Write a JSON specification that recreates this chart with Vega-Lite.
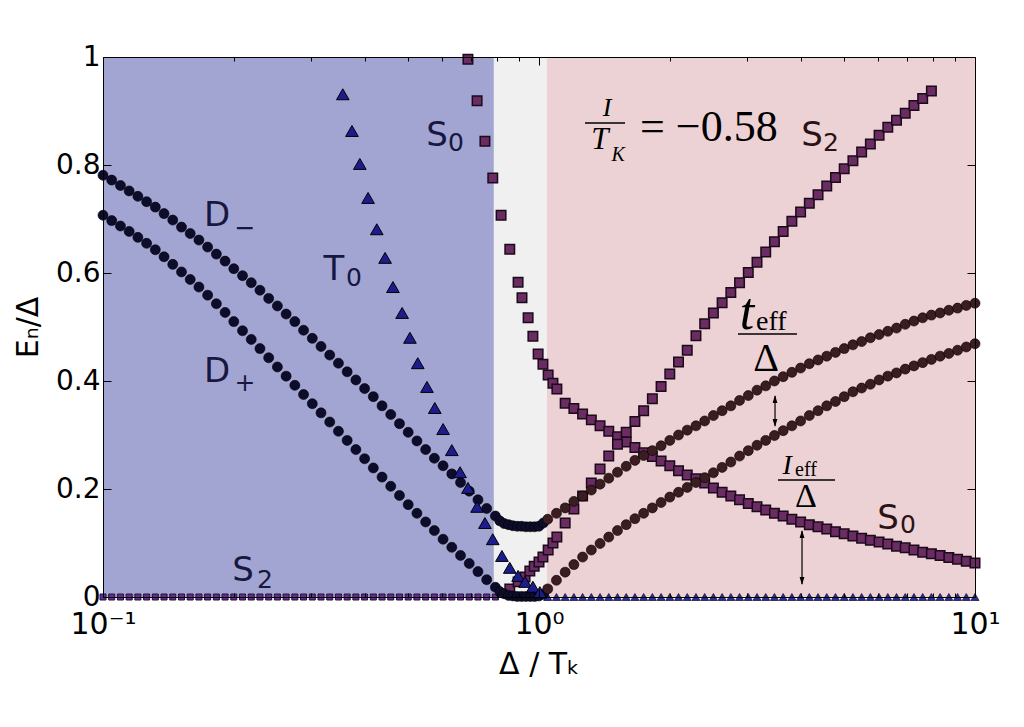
{
  "$schema": "https://vega.github.io/schema/vega-lite/v6.json",
  "width": 872,
  "height": 540,
  "autosize": {"type": "none"},
  "padding": {"left": 103, "top": 57, "right": 49, "bottom": 130},
  "background": "white",
  "config": {"view": {"stroke": null}, "font": "DejaVu Sans"},
  "datasets": {
    "zones": [
      {"x": 0.1, "x2": 0.788, "zone": "doublet"},
      {"x": 0.788, "x2": 1.043, "zone": "mixed"},
      {"x": 1.043, "x2": 10, "zone": "singlet"}
    ],
    "dm": [
      {"x": 0.1, "y": 0.781}, {"x": 0.10471, "y": 0.772}, {"x": 0.10965, "y": 0.762}, {"x": 0.11482, "y": 0.752},
      {"x": 0.12023, "y": 0.742}, {"x": 0.12589, "y": 0.732}, {"x": 0.13183, "y": 0.722}, {"x": 0.13804, "y": 0.71},
      {"x": 0.14454, "y": 0.698}, {"x": 0.15136, "y": 0.685}, {"x": 0.15849, "y": 0.673}, {"x": 0.16596, "y": 0.661},
      {"x": 0.17378, "y": 0.648}, {"x": 0.18197, "y": 0.635}, {"x": 0.19055, "y": 0.622}, {"x": 0.19953, "y": 0.608},
      {"x": 0.20893, "y": 0.595}, {"x": 0.21878, "y": 0.582}, {"x": 0.22909, "y": 0.568}, {"x": 0.23988, "y": 0.553},
      {"x": 0.25119, "y": 0.539}, {"x": 0.26303, "y": 0.524}, {"x": 0.27542, "y": 0.51}, {"x": 0.2884, "y": 0.494},
      {"x": 0.302, "y": 0.479}, {"x": 0.31623, "y": 0.464}, {"x": 0.33113, "y": 0.448}, {"x": 0.34674, "y": 0.433},
      {"x": 0.36308, "y": 0.417}, {"x": 0.38019, "y": 0.402}, {"x": 0.39811, "y": 0.386}, {"x": 0.41687, "y": 0.371},
      {"x": 0.43652, "y": 0.354}, {"x": 0.45709, "y": 0.338}, {"x": 0.47863, "y": 0.321}, {"x": 0.50119, "y": 0.305},
      {"x": 0.52481, "y": 0.289}, {"x": 0.54954, "y": 0.273}, {"x": 0.57544, "y": 0.257}, {"x": 0.60256, "y": 0.243},
      {"x": 0.63096, "y": 0.228}, {"x": 0.66069, "y": 0.212}, {"x": 0.69183, "y": 0.196}, {"x": 0.72444, "y": 0.18},
      {"x": 0.75858, "y": 0.164}, {"x": 0.79433, "y": 0.15},
      {"x": 0.81283, "y": 0.141}, {"x": 0.83176, "y": 0.136}, {"x": 0.8511, "y": 0.134}, {"x": 0.87096, "y": 0.132},
      {"x": 0.8913, "y": 0.131}, {"x": 0.91201, "y": 0.131}, {"x": 0.9333, "y": 0.13}, {"x": 0.95499, "y": 0.13},
      {"x": 0.9772, "y": 0.13}, {"x": 1, "y": 0.131}, {"x": 1.0233, "y": 0.137},
      {"x": 1.0471, "y": 0.144}, {"x": 1.0965, "y": 0.155}, {"x": 1.1482, "y": 0.165}, {"x": 1.2023, "y": 0.177},
      {"x": 1.2589, "y": 0.187}, {"x": 1.3183, "y": 0.198}, {"x": 1.3804, "y": 0.209}, {"x": 1.4454, "y": 0.22},
      {"x": 1.5136, "y": 0.231}, {"x": 1.5849, "y": 0.242}, {"x": 1.6596, "y": 0.253}, {"x": 1.7378, "y": 0.262},
      {"x": 1.8197, "y": 0.271}, {"x": 1.9055, "y": 0.28}, {"x": 1.9953, "y": 0.29}, {"x": 2.0893, "y": 0.3},
      {"x": 2.1878, "y": 0.309}, {"x": 2.2909, "y": 0.317}, {"x": 2.3988, "y": 0.326}, {"x": 2.5119, "y": 0.336},
      {"x": 2.6303, "y": 0.345}, {"x": 2.7542, "y": 0.354}, {"x": 2.884, "y": 0.364}, {"x": 3.02, "y": 0.373},
      {"x": 3.1623, "y": 0.383}, {"x": 3.3113, "y": 0.391}, {"x": 3.4674, "y": 0.4}, {"x": 3.6308, "y": 0.408},
      {"x": 3.8019, "y": 0.416}, {"x": 3.9811, "y": 0.424}, {"x": 4.1687, "y": 0.432}, {"x": 4.3652, "y": 0.439},
      {"x": 4.5709, "y": 0.446}, {"x": 4.7863, "y": 0.453}, {"x": 5.0119, "y": 0.46}, {"x": 5.2481, "y": 0.467},
      {"x": 5.4954, "y": 0.473}, {"x": 5.7544, "y": 0.48}, {"x": 6.0256, "y": 0.486}, {"x": 6.3096, "y": 0.492},
      {"x": 6.6069, "y": 0.498}, {"x": 6.9183, "y": 0.505}, {"x": 7.2444, "y": 0.511}, {"x": 7.5858, "y": 0.517},
      {"x": 7.9433, "y": 0.522}, {"x": 8.3176, "y": 0.526}, {"x": 8.7096, "y": 0.531}, {"x": 9.1201, "y": 0.535},
      {"x": 9.5499, "y": 0.54}, {"x": 10, "y": 0.544}
    ],
    "dp": [
      {"x": 0.1, "y": 0.707}, {"x": 0.10471, "y": 0.697}, {"x": 0.10965, "y": 0.687}, {"x": 0.11482, "y": 0.677},
      {"x": 0.12023, "y": 0.666}, {"x": 0.12589, "y": 0.655}, {"x": 0.13183, "y": 0.643}, {"x": 0.13804, "y": 0.63},
      {"x": 0.14454, "y": 0.616}, {"x": 0.15136, "y": 0.602}, {"x": 0.15849, "y": 0.588}, {"x": 0.16596, "y": 0.574},
      {"x": 0.17378, "y": 0.559}, {"x": 0.18197, "y": 0.543}, {"x": 0.19055, "y": 0.527}, {"x": 0.19953, "y": 0.51},
      {"x": 0.20893, "y": 0.493}, {"x": 0.21878, "y": 0.477}, {"x": 0.22909, "y": 0.46}, {"x": 0.23988, "y": 0.443},
      {"x": 0.25119, "y": 0.426}, {"x": 0.26303, "y": 0.409}, {"x": 0.27542, "y": 0.392}, {"x": 0.2884, "y": 0.375},
      {"x": 0.302, "y": 0.358}, {"x": 0.31623, "y": 0.341}, {"x": 0.33113, "y": 0.324}, {"x": 0.34674, "y": 0.307},
      {"x": 0.36308, "y": 0.29}, {"x": 0.38019, "y": 0.273}, {"x": 0.39811, "y": 0.256}, {"x": 0.41687, "y": 0.239},
      {"x": 0.43652, "y": 0.222}, {"x": 0.45709, "y": 0.205}, {"x": 0.47863, "y": 0.188}, {"x": 0.50119, "y": 0.171},
      {"x": 0.52481, "y": 0.155}, {"x": 0.54954, "y": 0.139}, {"x": 0.57544, "y": 0.123}, {"x": 0.60256, "y": 0.107},
      {"x": 0.63096, "y": 0.092}, {"x": 0.66069, "y": 0.077}, {"x": 0.69183, "y": 0.062}, {"x": 0.72444, "y": 0.047},
      {"x": 0.75858, "y": 0.032}, {"x": 0.79433, "y": 0.018},
      {"x": 0.81283, "y": 0.01}, {"x": 0.83176, "y": 0.006}, {"x": 0.8511, "y": 0.003}, {"x": 0.87096, "y": 0.002},
      {"x": 0.8913, "y": 0.001}, {"x": 0.91201, "y": 0.001}, {"x": 0.9333, "y": 0.001}, {"x": 0.95499, "y": 0.001},
      {"x": 0.9772, "y": 0.001}, {"x": 1, "y": 0.002}, {"x": 1.0233, "y": 0.005},
      {"x": 1.0471, "y": 0.015}, {"x": 1.0965, "y": 0.031}, {"x": 1.1482, "y": 0.046}, {"x": 1.2023, "y": 0.06},
      {"x": 1.2589, "y": 0.074}, {"x": 1.3183, "y": 0.087}, {"x": 1.3804, "y": 0.099}, {"x": 1.4454, "y": 0.111},
      {"x": 1.5136, "y": 0.123}, {"x": 1.5849, "y": 0.134}, {"x": 1.6596, "y": 0.145}, {"x": 1.7378, "y": 0.155},
      {"x": 1.8197, "y": 0.165}, {"x": 1.9055, "y": 0.175}, {"x": 1.9953, "y": 0.185}, {"x": 2.0893, "y": 0.194},
      {"x": 2.1878, "y": 0.203}, {"x": 2.2909, "y": 0.212}, {"x": 2.3988, "y": 0.221}, {"x": 2.5119, "y": 0.23},
      {"x": 2.6303, "y": 0.24}, {"x": 2.7542, "y": 0.25}, {"x": 2.884, "y": 0.261}, {"x": 3.02, "y": 0.271},
      {"x": 3.1623, "y": 0.281}, {"x": 3.3113, "y": 0.29}, {"x": 3.4674, "y": 0.299}, {"x": 3.6308, "y": 0.308},
      {"x": 3.8019, "y": 0.317}, {"x": 3.9811, "y": 0.326}, {"x": 4.1687, "y": 0.336}, {"x": 4.3652, "y": 0.345},
      {"x": 4.5709, "y": 0.354}, {"x": 4.7863, "y": 0.362}, {"x": 5.0119, "y": 0.371}, {"x": 5.2481, "y": 0.38},
      {"x": 5.4954, "y": 0.387}, {"x": 5.7544, "y": 0.394}, {"x": 6.0256, "y": 0.402}, {"x": 6.3096, "y": 0.409},
      {"x": 6.6069, "y": 0.415}, {"x": 6.9183, "y": 0.422}, {"x": 7.2444, "y": 0.428}, {"x": 7.5858, "y": 0.434},
      {"x": 7.9433, "y": 0.44}, {"x": 8.3176, "y": 0.446}, {"x": 8.7096, "y": 0.451}, {"x": 9.1201, "y": 0.457},
      {"x": 9.5499, "y": 0.463}, {"x": 10, "y": 0.469}
    ],
    "t0": [
      {"x": 0.3548, "y": 0.931}, {"x": 0.3724, "y": 0.863}, {"x": 0.3882, "y": 0.802}, {"x": 0.4055, "y": 0.739},
      {"x": 0.4246, "y": 0.681}, {"x": 0.4436, "y": 0.628}, {"x": 0.4624, "y": 0.574}, {"x": 0.4853, "y": 0.526},
      {"x": 0.5058, "y": 0.48}, {"x": 0.5272, "y": 0.433}, {"x": 0.5534, "y": 0.389}, {"x": 0.5768, "y": 0.35},
      {"x": 0.6026, "y": 0.311}, {"x": 0.631, "y": 0.272}, {"x": 0.6592, "y": 0.231}, {"x": 0.6871, "y": 0.202},
      {"x": 0.7211, "y": 0.167}, {"x": 0.7516, "y": 0.137}, {"x": 0.7834, "y": 0.107}, {"x": 0.8222, "y": 0.076},
      {"x": 0.857, "y": 0.054}, {"x": 0.8954, "y": 0.039}, {"x": 0.929, "y": 0.028}, {"x": 0.9683, "y": 0.019},
      {"x": 1.0046, "y": 0.009}
    ],
    "s0": [
      {"x": 0.6871, "y": 0.996}, {"x": 0.7211, "y": 0.919}, {"x": 0.7516, "y": 0.844}, {"x": 0.7834, "y": 0.776},
      {"x": 0.8185, "y": 0.707}, {"x": 0.857, "y": 0.644}, {"x": 0.8954, "y": 0.583}, {"x": 0.9141, "y": 0.554},
      {"x": 0.9441, "y": 0.517}, {"x": 0.9683, "y": 0.483}, {"x": 0.9954, "y": 0.45}, {"x": 1.021, "y": 0.431},
      {"x": 1.0495, "y": 0.411}, {"x": 1.0765, "y": 0.396}, {"x": 1.099, "y": 0.385},
      {"x": 1.1482, "y": 0.359}, {"x": 1.2023, "y": 0.349}, {"x": 1.2589, "y": 0.339}, {"x": 1.3183, "y": 0.328},
      {"x": 1.3804, "y": 0.317}, {"x": 1.4454, "y": 0.307}, {"x": 1.5136, "y": 0.297}, {"x": 1.5849, "y": 0.287},
      {"x": 1.6596, "y": 0.277}, {"x": 1.7378, "y": 0.267}, {"x": 1.8197, "y": 0.26}, {"x": 1.9055, "y": 0.252},
      {"x": 1.9953, "y": 0.243}, {"x": 2.0893, "y": 0.234}, {"x": 2.1878, "y": 0.226}, {"x": 2.2909, "y": 0.219},
      {"x": 2.3988, "y": 0.211}, {"x": 2.5119, "y": 0.202}, {"x": 2.6303, "y": 0.194}, {"x": 2.7542, "y": 0.187},
      {"x": 2.884, "y": 0.18}, {"x": 3.02, "y": 0.173}, {"x": 3.1623, "y": 0.167}, {"x": 3.3113, "y": 0.161},
      {"x": 3.4674, "y": 0.155}, {"x": 3.6308, "y": 0.15}, {"x": 3.8019, "y": 0.144}, {"x": 3.9811, "y": 0.139},
      {"x": 4.1687, "y": 0.134}, {"x": 4.3652, "y": 0.13}, {"x": 4.5709, "y": 0.126}, {"x": 4.7863, "y": 0.121},
      {"x": 5.0119, "y": 0.117}, {"x": 5.2481, "y": 0.113}, {"x": 5.4954, "y": 0.109}, {"x": 5.7544, "y": 0.105},
      {"x": 6.0256, "y": 0.102}, {"x": 6.3096, "y": 0.098}, {"x": 6.6069, "y": 0.094}, {"x": 6.9183, "y": 0.091},
      {"x": 7.2444, "y": 0.087}, {"x": 7.5858, "y": 0.083}, {"x": 7.9433, "y": 0.08}, {"x": 8.3176, "y": 0.077},
      {"x": 8.7096, "y": 0.073}, {"x": 9.1201, "y": 0.07}, {"x": 9.5499, "y": 0.066}, {"x": 10, "y": 0.063}
    ],
    "s2": [
      {"x": 0.857, "y": 0.015}, {"x": 0.8954, "y": 0.028}, {"x": 0.929, "y": 0.037}, {"x": 0.9528, "y": 0.048},
      {"x": 0.975, "y": 0.057}, {"x": 1, "y": 0.065}, {"x": 1.021, "y": 0.074}, {"x": 1.0495, "y": 0.087},
      {"x": 1.0765, "y": 0.1}, {"x": 1.099, "y": 0.111},
      {"x": 1.1482, "y": 0.137}, {"x": 1.2023, "y": 0.163}, {"x": 1.2589, "y": 0.187}, {"x": 1.3183, "y": 0.211},
      {"x": 1.3804, "y": 0.237}, {"x": 1.4454, "y": 0.261}, {"x": 1.5136, "y": 0.283}, {"x": 1.5849, "y": 0.305},
      {"x": 1.6596, "y": 0.325}, {"x": 1.7378, "y": 0.345}, {"x": 1.8197, "y": 0.367}, {"x": 1.9055, "y": 0.39},
      {"x": 1.9953, "y": 0.413}, {"x": 2.0893, "y": 0.435}, {"x": 2.1878, "y": 0.457}, {"x": 2.2909, "y": 0.484},
      {"x": 2.3988, "y": 0.506}, {"x": 2.5119, "y": 0.526}, {"x": 2.6303, "y": 0.545}, {"x": 2.7542, "y": 0.564},
      {"x": 2.884, "y": 0.582}, {"x": 3.02, "y": 0.601}, {"x": 3.1623, "y": 0.62}, {"x": 3.3113, "y": 0.639},
      {"x": 3.4674, "y": 0.658}, {"x": 3.6308, "y": 0.677}, {"x": 3.8019, "y": 0.696}, {"x": 3.9811, "y": 0.713},
      {"x": 4.1687, "y": 0.729}, {"x": 4.3652, "y": 0.745}, {"x": 4.5709, "y": 0.761}, {"x": 4.7863, "y": 0.777},
      {"x": 5.0119, "y": 0.793}, {"x": 5.2481, "y": 0.808}, {"x": 5.4954, "y": 0.824}, {"x": 5.7544, "y": 0.839},
      {"x": 6.0256, "y": 0.855}, {"x": 6.3096, "y": 0.87}, {"x": 6.6069, "y": 0.883}, {"x": 6.9183, "y": 0.896},
      {"x": 7.2444, "y": 0.91}, {"x": 7.5858, "y": 0.923}, {"x": 7.9433, "y": 0.937}
    ],
    "s2low": [
      {"x": 0.1, "y": 0}, {"x": 0.10471, "y": 0}, {"x": 0.10965, "y": 0}, {"x": 0.11482, "y": 0},
      {"x": 0.12023, "y": 0}, {"x": 0.12589, "y": 0}, {"x": 0.13183, "y": 0}, {"x": 0.13804, "y": 0},
      {"x": 0.14454, "y": 0}, {"x": 0.15136, "y": 0}, {"x": 0.15849, "y": 0}, {"x": 0.16596, "y": 0},
      {"x": 0.17378, "y": 0}, {"x": 0.18197, "y": 0}, {"x": 0.19055, "y": 0}, {"x": 0.19953, "y": 0},
      {"x": 0.20893, "y": 0}, {"x": 0.21878, "y": 0}, {"x": 0.22909, "y": 0}, {"x": 0.23988, "y": 0},
      {"x": 0.25119, "y": 0}, {"x": 0.26303, "y": 0}, {"x": 0.27542, "y": 0}, {"x": 0.2884, "y": 0},
      {"x": 0.302, "y": 0}, {"x": 0.31623, "y": 0}, {"x": 0.33113, "y": 0}, {"x": 0.34674, "y": 0},
      {"x": 0.36308, "y": 0}, {"x": 0.38019, "y": 0}, {"x": 0.39811, "y": 0}, {"x": 0.41687, "y": 0},
      {"x": 0.43652, "y": 0}, {"x": 0.45709, "y": 0}, {"x": 0.47863, "y": 0}, {"x": 0.50119, "y": 0},
      {"x": 0.52481, "y": 0}, {"x": 0.54954, "y": 0}, {"x": 0.57544, "y": 0}, {"x": 0.60256, "y": 0},
      {"x": 0.63096, "y": 0}, {"x": 0.66069, "y": 0}, {"x": 0.69183, "y": 0}, {"x": 0.72444, "y": 0},
      {"x": 0.75858, "y": 0}, {"x": 0.79433, "y": 0}
    ],
    "ground": [
      {"x": 1.0471, "y": 0}, {"x": 1.0965, "y": 0}, {"x": 1.1482, "y": 0}, {"x": 1.2023, "y": 0},
      {"x": 1.2589, "y": 0}, {"x": 1.3183, "y": 0}, {"x": 1.3804, "y": 0}, {"x": 1.4454, "y": 0},
      {"x": 1.5136, "y": 0}, {"x": 1.5849, "y": 0}, {"x": 1.6596, "y": 0}, {"x": 1.7378, "y": 0},
      {"x": 1.8197, "y": 0}, {"x": 1.9055, "y": 0}, {"x": 1.9953, "y": 0}, {"x": 2.0893, "y": 0},
      {"x": 2.1878, "y": 0}, {"x": 2.2909, "y": 0}, {"x": 2.3988, "y": 0}, {"x": 2.5119, "y": 0},
      {"x": 2.6303, "y": 0}, {"x": 2.7542, "y": 0}, {"x": 2.884, "y": 0}, {"x": 3.02, "y": 0},
      {"x": 3.1623, "y": 0}, {"x": 3.3113, "y": 0}, {"x": 3.4674, "y": 0}, {"x": 3.6308, "y": 0},
      {"x": 3.8019, "y": 0}, {"x": 3.9811, "y": 0}, {"x": 4.1687, "y": 0}, {"x": 4.3652, "y": 0},
      {"x": 4.5709, "y": 0}, {"x": 4.7863, "y": 0}, {"x": 5.0119, "y": 0}, {"x": 5.2481, "y": 0},
      {"x": 5.4954, "y": 0}, {"x": 5.7544, "y": 0}, {"x": 6.0256, "y": 0}, {"x": 6.3096, "y": 0},
      {"x": 6.6069, "y": 0}, {"x": 6.9183, "y": 0}, {"x": 7.2444, "y": 0}, {"x": 7.5858, "y": 0},
      {"x": 7.9433, "y": 0}, {"x": 8.3176, "y": 0}, {"x": 8.7096, "y": 0}, {"x": 9.1201, "y": 0},
      {"x": 9.5499, "y": 0}, {"x": 10, "y": 0}
    ]
  },
  "layer": [
    {
      "data": {"name": "zones"},
      "mark": {"type": "rect"},
      "encoding": {
        "x": {"field": "x", "type": "quantitative", "scale": {"type": "log", "domain": [0.1, 10]}, "axis": null},
        "x2": {"field": "x2"},
        "fill": {
          "field": "zone",
          "type": "nominal",
          "scale": {"domain": ["doublet", "mixed", "singlet"], "range": ["#a2a5d2", "#f0f0f0", "#ecd2d4"]},
          "legend": null
        }
      }
    },
    {
      "encoding": {
        "x": {"field": "x", "type": "quantitative", "scale": {"type": "log", "domain": [0.1, 10]}, "axis": null},
        "y": {"field": "y", "type": "quantitative", "scale": {"domain": [0, 1], "nice": false, "zero": false}, "axis": null}
      },
      "layer": [
        {
          "data": {"name": "s2low"},
          "mark": {"type": "point", "shape": "square", "filled": true, "size": 36, "fill": "#62308a", "stroke": "#24103a", "strokeWidth": 1, "opacity": 1}
        },
        {
          "data": {"name": "ground"},
          "mark": {"type": "point", "shape": "triangle-up", "filled": true, "size": 64, "fill": "#2e2e98", "stroke": "#14143a", "strokeWidth": 0.8, "opacity": 1}
        },
        {
          "data": {"name": "s0"},
          "mark": {"type": "point", "shape": "square", "filled": true, "size": 90, "fill": "#6b2b63", "stroke": "#1b0a1a", "strokeWidth": 1.5, "opacity": 1}
        },
        {
          "data": {"name": "s2"},
          "mark": {"type": "point", "shape": "square", "filled": true, "size": 90, "fill": "#6b2b63", "stroke": "#1b0a1a", "strokeWidth": 1.5, "opacity": 1}
        },
        {
          "data": {"name": "dm"},
          "mark": {"type": "point", "shape": "circle", "filled": true, "size": 100, "stroke": "#000000", "strokeWidth": 0.6, "opacity": 1},
          "encoding": {
            "x": {
              "field": "x",
              "type": "quantitative",
              "scale": {"type": "log", "domain": [0.1, 10]},
              "axis": {
                "orient": "bottom",
                "values": [0.1, 0.2, 0.3, 0.4, 0.5, 0.6, 0.7, 0.8, 0.9, 1, 2, 3, 4, 5, 6, 7, 8, 9, 10],
                "labelExpr": "datum.value == 0.1 ? '10⁻¹' : datum.value == 1 ? '10⁰' : datum.value == 10 ? '10¹' : ''",
                "tickSize": {"condition": {"test": "datum.value == 0.1 || datum.value == 1 || datum.value == 10", "value": -8}, "value": -4},
                "tickColor": "#000000",
                "domainColor": "#000000",
                "labelPadding": 20,
                "labelFontSize": 30,
                "labelColor": "#000000",
                "labelFlush": false,
                "labelOverlap": false,
                "labelBound": false,
                "grid": false,
                "title": "Δ / Tₖ",
                "titleFontSize": 30,
                "titleFontWeight": "normal",
                "titleColor": "#000000",
                "titlePadding": 6,
                "zindex": 1
              }
            },
            "y": {
              "field": "y",
              "type": "quantitative",
              "scale": {"domain": [0, 1], "nice": false, "zero": false},
              "axis": {
                "orient": "left",
                "values": [0, 0.2, 0.4, 0.6, 0.8, 1],
                "format": "~g",
                "tickSize": -8,
                "tickColor": "#000000",
                "domainColor": "#000000",
                "labelPadding": 11,
                "labelFontSize": 28,
                "labelColor": "#000000",
                "labelFlush": false,
                "labelOverlap": false,
                "grid": false,
                "title": "Eₙ/Δ",
                "titleFontSize": 30,
                "titleFontWeight": "normal",
                "titleColor": "#000000",
                "titlePadding": 12,
                "zindex": 1
              }
            },
            "fill": {"condition": {"test": "datum.x > 1.03", "value": "#3a1c21"}, "value": "#0d0d2b"}
          }
        },
        {
          "data": {"name": "dp"},
          "mark": {"type": "point", "shape": "circle", "filled": true, "size": 100, "stroke": "#000000", "strokeWidth": 0.6, "opacity": 1},
          "encoding": {
            "x": {
              "field": "x",
              "type": "quantitative",
              "scale": {"type": "log", "domain": [0.1, 10]},
              "axis": {
                "orient": "top",
                "values": [0.1, 0.2, 0.3, 0.4, 0.5, 0.6, 0.7, 0.8, 0.9, 1, 2, 3, 4, 5, 6, 7, 8, 9, 10],
                "labels": false,
                "tickSize": {"condition": {"test": "datum.value == 0.1 || datum.value == 1 || datum.value == 10", "value": -8}, "value": -4},
                "tickColor": "#000000",
                "domainColor": "#000000",
                "grid": false,
                "title": null,
                "zindex": 1
              }
            },
            "y": {
              "field": "y",
              "type": "quantitative",
              "scale": {"domain": [0, 1], "nice": false, "zero": false},
              "axis": {
                "orient": "right",
                "values": [0, 0.2, 0.4, 0.6, 0.8, 1],
                "labels": false,
                "tickSize": -8,
                "tickColor": "#000000",
                "domainColor": "#000000",
                "grid": false,
                "title": null,
                "zindex": 1
              }
            },
            "fill": {"condition": {"test": "datum.x > 1.03", "value": "#3a1c21"}, "value": "#0d0d2b"}
          }
        },
        {
          "data": {"name": "t0"},
          "mark": {"type": "point", "shape": "triangle-up", "filled": true, "size": 160, "fill": "#1c1c8c", "stroke": "#000000", "strokeWidth": 1, "opacity": 1}
        },
        {
          "data": {"values": [
            {"x": 0.1826, "y": 0.7056, "t": "D"},
            {"x": 0.1826, "y": 0.4167, "t": "D"},
            {"x": 0.3387, "y": 0.6056, "t": "T"},
            {"x": 0.5834, "y": 0.8537, "t": "S"},
            {"x": 0.2095, "y": 0.0481, "t": "S"}
          ]},
          "mark": {"type": "text", "fontSize": 34, "color": "#17173f", "align": "center", "baseline": "middle"},
          "encoding": {"text": {"field": "t"}}
        },
        {
          "data": {"values": [
            {"x": 0.2117, "y": 0.6833, "t": "−"},
            {"x": 0.2117, "y": 0.3963, "t": "+"},
            {"x": 0.3764, "y": 0.5907, "t": "0"},
            {"x": 0.6451, "y": 0.8407, "t": "0"},
            {"x": 0.2352, "y": 0.0315, "t": "2"}
          ]},
          "mark": {"type": "text", "fontSize": 25, "color": "#17173f", "align": "center", "baseline": "middle"},
          "encoding": {"text": {"field": "t"}}
        },
        {
          "data": {"values": [
            {"x": 4.227, "y": 0.8537, "t": "S"},
            {"x": 6.318, "y": 0.1444, "t": "S"}
          ]},
          "mark": {"type": "text", "fontSize": 34, "color": "#2a1216", "align": "center", "baseline": "middle"},
          "encoding": {"text": {"field": "t"}}
        },
        {
          "data": {"values": [
            {"x": 4.674, "y": 0.8407, "t": "2"},
            {"x": 7.021, "y": 0.1333, "t": "0"}
          ]},
          "mark": {"type": "text", "fontSize": 25, "color": "#2a1216", "align": "center", "baseline": "middle"},
          "encoding": {"text": {"field": "t"}}
        },
        {
          "data": {"values": [{"x": 1.432, "y": 0.906, "t": "I"}]},
          "mark": {"type": "text", "font": "Liberation Serif", "fontStyle": "italic", "fontSize": 26, "color": "#000000", "align": "center", "baseline": "middle"},
          "encoding": {"text": {"field": "t"}}
        },
        {
          "data": {"values": [{"x": 1.38, "y": 0.846, "t": "T"}]},
          "mark": {"type": "text", "font": "Liberation Serif", "fontStyle": "italic", "fontSize": 31, "color": "#000000", "align": "center", "baseline": "middle"},
          "encoding": {"text": {"field": "t"}}
        },
        {
          "data": {"values": [{"x": 1.52, "y": 0.8185, "t": "K"}]},
          "mark": {"type": "text", "font": "Liberation Serif", "fontStyle": "italic", "fontSize": 20, "color": "#000000", "align": "center", "baseline": "middle"},
          "encoding": {"text": {"field": "t"}}
        },
        {
          "data": {"values": [{"x": 1.705, "y": 0.8685, "t": "= −0.58"}]},
          "mark": {"type": "text", "font": "Liberation Serif", "fontSize": 44, "color": "#000000", "align": "left", "baseline": "middle"},
          "encoding": {"text": {"field": "t"}}
        },
        {
          "data": {"values": [{"x": 3.0, "y": 0.526, "t": "t"}]},
          "mark": {"type": "text", "font": "Liberation Serif", "fontStyle": "italic", "fontSize": 52, "color": "#000000", "align": "center", "baseline": "middle"},
          "encoding": {"text": {"field": "t"}}
        },
        {
          "data": {"values": [{"x": 3.146, "y": 0.509, "t": "eff"}]},
          "mark": {"type": "text", "font": "Liberation Serif", "fontSize": 28, "color": "#000000", "align": "left", "baseline": "middle"},
          "encoding": {"text": {"field": "t"}}
        },
        {
          "data": {"values": [{"x": 3.316, "y": 0.4407, "t": "Δ"}]},
          "mark": {"type": "text", "font": "Liberation Serif", "fontSize": 40, "color": "#000000", "align": "center", "baseline": "middle"},
          "encoding": {"text": {"field": "t"}}
        },
        {
          "data": {"values": [{"x": 3.706, "y": 0.2426, "t": "I"}]},
          "mark": {"type": "text", "font": "Liberation Serif", "fontStyle": "italic", "fontSize": 28, "color": "#000000", "align": "center", "baseline": "middle"},
          "encoding": {"text": {"field": "t"}}
        },
        {
          "data": {"values": [{"x": 3.866, "y": 0.2352, "t": "eff"}]},
          "mark": {"type": "text", "font": "Liberation Serif", "fontSize": 20, "color": "#000000", "align": "left", "baseline": "middle"},
          "encoding": {"text": {"field": "t"}}
        },
        {
          "data": {"values": [{"x": 4.097, "y": 0.1852, "t": "Δ"}]},
          "mark": {"type": "text", "font": "Liberation Serif", "fontSize": 34, "color": "#000000", "align": "center", "baseline": "middle"},
          "encoding": {"text": {"field": "t"}}
        },
        {
          "data": {"values": [
            {"x": 1.275, "x2": 1.575, "y": 0.8778},
            {"x": 2.86, "x2": 3.905, "y": 0.487},
            {"x": 3.533, "x2": 4.775, "y": 0.2167}
          ]},
          "mark": {"type": "rule", "color": "#000000", "strokeWidth": 1.6},
          "encoding": {"x2": {"field": "x2"}}
        },
        {
          "data": {"values": [
            {"x": 3.478, "y": 0.372, "y2": 0.317},
            {"x": 4.011, "y": 0.122, "y2": 0.024}
          ]},
          "mark": {"type": "rule", "color": "#000000", "strokeWidth": 1.2},
          "encoding": {"y2": {"field": "y2"}}
        },
        {
          "data": {"values": [{"x": 3.478, "y": 0.3666}, {"x": 4.011, "y": 0.1166}]},
          "mark": {"type": "point", "shape": "M0,-1L-0.6,1L0.6,1Z", "filled": true, "size": 64, "color": "#000000", "opacity": 1}
        },
        {
          "data": {"values": [{"x": 3.478, "y": 0.3224}, {"x": 4.011, "y": 0.0294}]},
          "mark": {"type": "point", "shape": "M0,1L-0.6,-1L0.6,-1Z", "filled": true, "size": 64, "color": "#000000", "opacity": 1}
        }
      ],
      "resolve": {"axis": {"x": "independent", "y": "independent"}}
    }
  ],
  "resolve": {"axis": {"x": "independent", "y": "independent"}}
}
